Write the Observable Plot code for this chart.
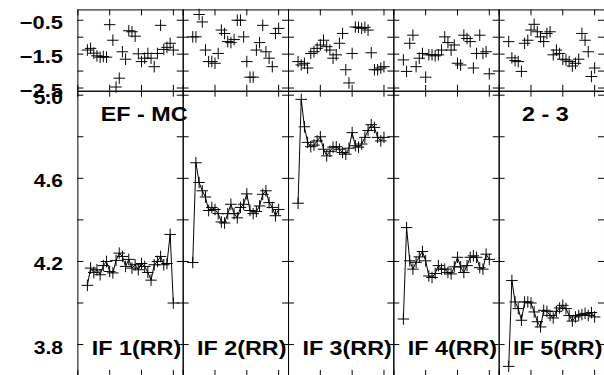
<!DOCTYPE html>
<html><head><meta charset="utf-8">
<script src="https://cdn.jsdelivr.net/npm/d3@7"></script>
<script src="https://cdn.jsdelivr.net/npm/@observablehq/plot@0.6"></script>
<style>
html,body{margin:0;padding:0;background:#fff;}
#chart{position:relative;width:604px;height:375px;overflow:hidden;background:#fff;}
#chart svg{position:absolute;left:0;top:0;overflow:visible;}
</style></head><body><div id="chart"></div>
<script>
// ---- data ----
const panels = [1, 2, 3, 4, 5];
const steps = [3,4,5,6,7,8,9,10,11,12,13,14,15,16,17,18,19,20,21,22,23,24,25,26,27,28,29,30];

const top1 = [-1.38,-1.33,-1.47,-1.55,-1.59,-1.57,-1.59,-0.63,-1.09,-2.47,-2.21,-1.43,-1.65,-0.81,-0.84,-0.97,-1.49,-1.72,-1.62,-1.48,-1.62,-1.87,-1.48,-0.65,-1.36,-1.30,-1.18,-1.38];
const top2 = [-0.99,-0.99,-0.33,-0.55,-1.38,-1.72,-1.72,-1.77,-1.48,-0.79,-0.89,-1.13,-1.16,-1.07,-0.50,-0.50,-0.99,-1.72,-2.18,-2.18,-1.38,-1.16,-0.65,-1.43,-1.62,-1.87,-0.89,-0.74];
const top3 = [-1.72,-1.82,-1.77,-1.91,-1.48,-1.43,-1.33,-1.23,-1.09,-1.28,-1.38,-1.62,-1.52,-1.18,-0.89,-1.96,-2.35,-1.48,-0.70,-0.71,-0.74,-0.71,-0.79,-1.46,-1.96,-1.96,-1.91,-1.87];
const top4 = [-1.67,-2.01,-1.18,-0.94,-1.87,-1.62,-1.48,-2.18,-1.52,-1.52,-1.55,-1.52,-1.38,-0.99,-1.16,-1.38,-1.23,-1.77,-1.82,-0.94,-1.04,-1.13,-1.91,-1.48,-0.94,-1.48,-1.43,-2.08];
const top5 = [-1.13,-1.61,-1.69,-1.72,-2.01,-1.18,-1.09,-0.79,-0.62,-0.84,-0.99,-1.13,-0.89,-0.84,-1.52,-1.38,-1.48,-1.65,-1.67,-1.72,-1.85,-1.77,-1.65,-0.89,-1.09,-1.43,-2.16,-1.91];

const bot1 = [4.085,4.168,4.147,4.16,4.136,4.18,4.2,4.152,4.145,4.205,4.24,4.224,4.176,4.21,4.168,4.184,4.16,4.19,4.176,4.147,4.11,4.184,4.2,4.224,4.184,4.19,4.33,4.0];
const bot2 = [4.195,4.675,4.58,4.54,4.51,4.445,4.46,4.45,4.43,4.39,4.385,4.43,4.475,4.43,4.41,4.46,4.475,4.525,4.445,4.43,4.44,4.467,4.523,4.54,4.483,4.46,4.42,4.45];
const bot3 = [4.48,4.98,4.848,4.773,4.752,4.76,4.78,4.8,4.74,4.708,4.73,4.75,4.752,4.74,4.724,4.716,4.745,4.82,4.757,4.75,4.765,4.797,4.83,4.858,4.845,4.797,4.78,4.797];
const bot4 = [3.923,4.363,4.203,4.163,4.196,4.222,4.248,4.203,4.13,4.123,4.142,4.18,4.163,4.163,4.147,4.14,4.174,4.22,4.174,4.147,4.18,4.22,4.227,4.22,4.17,4.163,4.235,4.21];
const bot5 = [3.695,4.108,4.005,3.973,3.917,4.005,4.005,4.0,3.957,3.91,3.885,3.965,3.96,3.94,3.928,3.96,3.976,3.989,3.973,3.94,3.913,3.933,3.94,3.944,3.95,3.94,3.954,3.933];

const bottomLabels = ["IF 1(RR)", "IF 2(RR)", "IF 3(RR)", "IF 4(RR)", "IF 5(RR)"];
const cornerLabels = ["EF - MC", "", "", "", "2 - 3"];

const xTicks = [0, 10, 20, 30];
const topTicks = [-2.5, -2.0, -1.5, -1.0, -0.5];
const topTickLabels = [-2.5, -1.5, -0.5];
const botTicks = [3.8, 4.0, 4.2, 4.4, 4.6, 4.8, 5.0];
const botTickLabels = [3.8, 4.2, 4.6, 5.0];

// ---- build tables ----
const topSeries = [top1, top2, top3, top4, top5];
const botSeries = [bot1, bot2, bot3, bot4, bot5];
const topRows = topSeries.flatMap((s, k) => s.map((v, i) => ({panel: panels[k], x: steps[i], y: v})));
const botRows = botSeries.flatMap((s, k) => s.map((v, i) => ({panel: panels[k], x: steps[i], y: v})));
const bottomLabelRows = bottomLabels.map((t, k) => ({panel: panels[k], label: t}));
const cornerLabelRows = cornerLabels.map((t, k) => ({panel: panels[k], label: t})).filter(d => d.label);

// ---- layout / style ----
const W = 609, ML = 78;
const FW = (W - ML) / panels.length;
const TICK = 6;
const FONT = "'Liberation Sans', Arial, Helvetica, sans-serif";
const fmt = d3.format(".1f");
const plus = {draw(ctx, size) { const r = Math.sqrt(size / Math.PI); ctx.moveTo(-r, 0); ctx.lineTo(r, 0); ctx.moveTo(0, -r); ctx.lineTo(0, r); }};

function tickMarks(yTicks, H) {
  return [
    Plot.ruleX(xTicks, {insetBottom: H - TICK, stroke: "black"}),
    Plot.ruleX(xTicks, {insetTop: H - TICK, stroke: "black"}),
    Plot.ruleY(yTicks, {insetRight: FW - TICK, stroke: "black"}),
    Plot.ruleY(yTicks, {insetLeft: FW - TICK, stroke: "black"})
  ];
}

function stretch(svg, sx) {
  svg.querySelectorAll("text").forEach(t => {
    const tr = t.getAttribute("transform") || "";
    t.setAttribute("transform", tr + ` scale(${sx},1)`);
  });
}

const topMT = 9.5, topMB = 8.5, topH = 100;
const topPlot = Plot.plot({
  width: W, height: topH,
  marginLeft: ML, marginRight: 0, marginTop: topMT, marginBottom: topMB,
  style: {fontFamily: FONT, fontWeight: "bold", background: "transparent", overflow: "visible"},
  fx: {domain: panels, padding: 0, round: false, axis: null, label: null},
  x: {domain: [0, 33.1], axis: null, label: null},
  y: {domain: [-2.595, -0.195], axis: null, label: null},
  marks: [
    Plot.frame({stroke: "black"}),
    ...tickMarks(topTicks, topH - topMT - topMB),
    Plot.dot(topRows, {fx: "panel", x: "x", y: "y", symbol: plus, r: 5.8, stroke: "black", fill: "none", strokeWidth: 1}),
    Plot.axisY(topTickLabels, {tickSize: 0, tickPadding: 15, fontSize: 19, fontWeight: "bold", fill: "black", tickFormat: fmt, dy: 3, label: null})
  ]
});

const botMT = 91.5, botMB = 21, botH = 400;
const botPlot = Plot.plot({
  width: W, height: botH,
  marginLeft: ML, marginRight: 0, marginTop: botMT, marginBottom: botMB,
  style: {fontFamily: FONT, fontWeight: "bold", background: "transparent", overflow: "visible"},
  fx: {domain: panels, padding: 0, round: false, axis: null, label: null},
  x: {domain: [0, 33.1], axis: null, label: null},
  y: {domain: [3.647, 5.019], axis: null, label: null},
  marks: [
    Plot.frame({stroke: "black"}),
    ...tickMarks(botTicks, botH - botMT - botMB),
    Plot.line(botRows, {fx: "panel", x: "x", y: "y", z: "panel", stroke: "black", strokeWidth: 1}),
    Plot.dot(botRows, {fx: "panel", x: "x", y: "y", symbol: plus, r: 5.8, stroke: "black", fill: "none", strokeWidth: 1}),
    Plot.text(bottomLabelRows, {fx: "panel", text: "label", frameAnchor: "bottom-left", dx: 14, dy: -36, lineAnchor: "top", textAnchor: "start", fontSize: 21, fontWeight: "bold", fill: "black"}),
    Plot.text(cornerLabelRows, {fx: "panel", text: "label", frameAnchor: "top-left", dx: 23, dy: 15, lineAnchor: "top", textAnchor: "start", fontSize: 21, fontWeight: "bold", fill: "black"}),
    Plot.axisY(botTickLabels, {tickSize: 0, tickPadding: 15, fontSize: 19, fontWeight: "bold", fill: "black", tickFormat: fmt, dy: 3, label: null})
  ]
});

stretch(topPlot, 1.16);
stretch(botPlot, 1.12);

const chart = document.getElementById("chart");
chart.appendChild(topPlot);
chart.appendChild(botPlot);
</script>
</body></html>
